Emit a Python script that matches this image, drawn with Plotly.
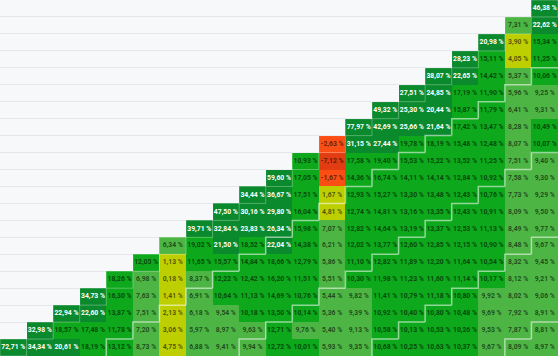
import plotly.graph_objects as go

# Return triangle: each row lists annual average returns (%) starting at the diagonal
row_0 = [46.38]
row_1 = [7.31, 22.62]
row_2 = [20.98, 3.90, 15.34]
row_3 = [28.23, 15.11, 4.05, 11.25]
row_4 = [38.07, 22.65, 14.42, 5.37, 10.06]
row_5 = [27.51, 24.85, 17.19, 11.90, 5.96, 9.25]
row_6 = [49.32, 25.30, 20.44, 15.87, 11.79, 6.41, 9.31]
row_7 = [77.97, 42.69, 25.66, 21.64, 17.42, 13.47, 8.28, 10.49]
row_8 = [-2.63, 31.15, 27.44, 19.78, 18.19, 15.48, 12.48, 8.07, 10.07]
row_9 = [10.93, -7.12, 17.58, 19.40, 15.53, 15.22, 13.52, 11.25, 7.51, 9.40]
row_10 = [59.60, 17.05, -1.67, 14.36, 16.74, 14.11, 14.14, 12.84, 10.92, 7.58, 9.30]
row_11 = [34.44, 36.67, 17.51, 1.67, 12.93, 15.27, 13.30, 13.48, 12.43, 10.76, 7.73, 9.29]
row_12 = [47.50, 30.16, 29.80, 16.04, 4.81, 12.74, 14.81, 13.16, 13.35, 12.43, 10.91, 8.09, 9.50]
row_13 = [39.71, 32.84, 23.83, 26.34, 15.98, 7.07, 12.82, 14.64, 13.19, 13.37, 12.53, 11.13, 8.49, 9.77]
row_14 = [6.34, 19.02, 21.50, 18.52, 22.04, 14.38, 6.21, 12.02, 13.77, 12.60, 12.85, 12.15, 10.90, 8.48, 9.67]
row_15 = [12.05, 1.13, 11.65, 15.57, 14.84, 18.66, 12.79, 5.86, 11.10, 12.82, 11.89, 12.20, 11.64, 10.54, 8.32, 9.45]
row_16 = [18.26, 6.98, 0.18, 8.37, 12.22, 12.42, 16.20, 11.51, 5.51, 10.30, 11.98, 11.23, 11.60, 11.14, 10.17, 8.12, 9.21]
row_17 = [34.73, 16.30, 7.63, 1.41, 6.91, 10.64, 11.13, 14.69, 10.76, 5.44, 9.82, 11.41, 10.79, 11.18, 10.80, 9.92, 8.02, 9.06]
row_18 = [22.94, 22.60, 13.87, 7.51, 2.13, 6.18, 9.54, 10.18, 13.50, 10.14, 5.36, 9.39, 10.92, 10.40, 10.80, 10.48, 9.69, 7.92, 8.91]
row_19 = [32.98, 18.57, 17.48, 11.78, 7.20, 3.06, 5.97, 8.97, 9.63, 12.71, 9.76, 5.40, 9.13, 10.58, 10.13, 10.53, 10.26, 9.53, 7.87, 8.81]
row_20 = [72.71, 34.34, 20.61, 18.19, 13.12, 8.73, 4.75, 6.88, 9.41, 9.94, 12.72, 10.01, 5.93, 9.35, 10.68, 10.25, 10.63, 10.37, 9.67, 8.09, 8.97]

rows = [row_0, row_1, row_2, row_3, row_4, row_5, row_6, row_7, row_8, row_9, row_10,
        row_11, row_12, row_13, row_14, row_15, row_16, row_17, row_18, row_19, row_20]

# Colour classes (upper bounds) and holding periods marked by white lines
class_bounds = [-5, 0, 5, 10, 20]
class_colors = ["#e23c12", "#fb4e14", "#bdcf00", "#4db544", "#0da81b", "#0a8a2d"]
marked_periods = [5, 10, 15, 20]

n = len(rows)
zmin, zmax = -10.0, 80.0

z = []
for r, vals in enumerate(rows):
    start = n - 1 - r
    z.append([None] * start + vals)

def norm(v):
    return (v - zmin) / (zmax - zmin)

cs = []
edges = [zmin] + class_bounds + [zmax]
for i, col in enumerate(class_colors):
    cs.append([norm(edges[i]), col])
    cs.append([norm(edges[i + 1]), col])

fig = go.Figure()
fig.add_trace(go.Heatmap(
    z=z, x=list(range(n)), y=list(range(n)),
    colorscale=cs, zmin=zmin, zmax=zmax, showscale=False,
    hoverinfo="skip", xgap=0, ygap=0,
))

tx, ty, tt, tc = [], [], [], []
for r, vals in enumerate(rows):
    start = n - 1 - r
    for k, v in enumerate(vals):
        c = start + k
        tx.append(c)
        ty.append(r)
        tt.append(f"{v:.2f}".replace(".", ",") + " %")
        tc.append("#ffffff" if v >= 20 else "rgba(0,0,0,0.6)")

fig.add_trace(go.Scatter(
    x=tx, y=ty, mode="text", text=tt,
    textfont=dict(family="Liberation Sans Narrow, Roboto", size=6.8, color=tc, weight="bold"),
    hoverinfo="skip", showlegend=False,
))

shapes = []
for r in range(n):
    c = n - 1 - r
    shapes.append(dict(type="rect", x0=c - 0.5, x1=c + 0.5, y0=r - 0.5, y1=r + 0.5,
                       line=dict(color="rgba(255,255,255,0.3)", width=1), layer="above"))

for p in marked_periods:
    s = p + n - 2
    cells = [(c, s - c) for c in range(n) if 0 <= s - c < n]
    path = ""
    for c, r in cells:
        path += f"M{c - 0.5},{r + 0.5} L{c - 0.5},{r - 0.5} L{c + 0.5},{r - 0.5} "
    shapes.append(dict(type="path", path=path,
                       line=dict(color="rgba(255,255,255,0.55)", width=1.5), layer="above"))

fig.update_layout(
    width=558, height=356,
    margin=dict(l=0, r=0, t=0, b=0),
    paper_bgcolor="#f7f8fa", plot_bgcolor="#f7f8fa",
    shapes=shapes, showlegend=False,
)
fig.update_xaxes(range=[-0.5, n - 0.5], showgrid=False, zeroline=False,
                 showticklabels=False, ticks="", fixedrange=True)
fig.update_yaxes(range=[n - 0.5, -0.5], showgrid=True, gridcolor="#e3e6ea", gridwidth=1,
                 tickvals=[i - 0.5 for i in range(n + 1)], zeroline=False,
                 showticklabels=False, ticks="", fixedrange=True)

fig.write_html("out.html", config={"displayModeBar": False},
               post_script="document.body.style.margin='0';document.body.style.overflow='hidden';")
